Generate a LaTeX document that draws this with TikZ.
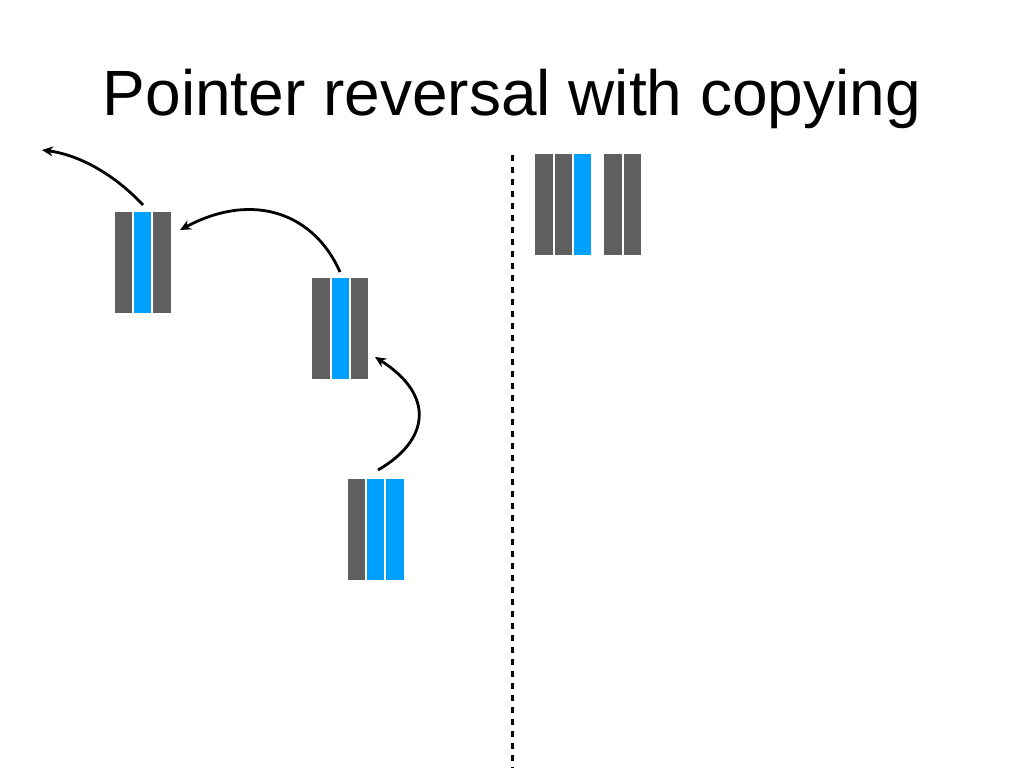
\documentclass[tikz,border=0pt]{standalone}
\usepackage{fontspec}
\setmainfont{Liberation Sans}
\usetikzlibrary{arrows.meta}
\definecolor{bargray}{RGB}{95,95,95}
\definecolor{barblue}{RGB}{0,160,255}
\begin{document}
\begin{tikzpicture}[x=1pt,y=-1pt,
  g/.style={fill=bargray,draw=none},
  b/.style={fill=barblue,draw=none},
  ptr/.style={line width=2.8pt,-{Stealth[length=11pt,width=10pt]}},
  sep/.style={line width=3pt,dash pattern=on 6pt off 6pt}]
\useasboundingbox (0,0) rectangle (1024,768);
\node[anchor=base,inner sep=0pt,font=\fontsize{64}{70}\selectfont] (title) at (512,115) {Pointer reversal with copying};
% block 1
\fill[g] (115,212) rectangle (132,313);
\fill[b] (134,212) rectangle (151,313);
\fill[g] (153,212) rectangle (171,313);
\coordinate (b1top) at (143,205);
\coordinate (b1right) at (180,230);
% block 2
\fill[g] (312,278) rectangle (330,379);
\fill[b] (332,278) rectangle (349,379);
\fill[g] (351,278) rectangle (368,379);
\coordinate (b2top) at (340,272);
\coordinate (b2right) at (375,357);
% block 3
\fill[g] (348,479) rectangle (365,580);
\fill[b] (367,479) rectangle (384,580);
\fill[b] (386,479) rectangle (404,580);
\coordinate (b3top) at (378,470);
% block 4
\fill[g] (535,154) rectangle (553,255);
\fill[g] (555,154) rectangle (572,255);
\fill[b] (574,154) rectangle (591,255);
\fill[g] (604,154) rectangle (622,255);
\fill[g] (624,154) rectangle (641,255);
\coordinate (free) at (42,150);
% separator
\coordinate (septop) at (512,155);
\coordinate (sepbot) at (512,768);
\draw[sep] (septop) -- (sepbot);
% pointers
\draw[ptr] (b1top) .. controls (115,175) and (80,155) .. (free);
\draw[ptr] (b2top) .. controls (315,215) and (255,190) .. (b1right);
\draw[ptr] (b3top) .. controls (430,440) and (435,395) .. (b2right);
\end{tikzpicture}
\end{document}
